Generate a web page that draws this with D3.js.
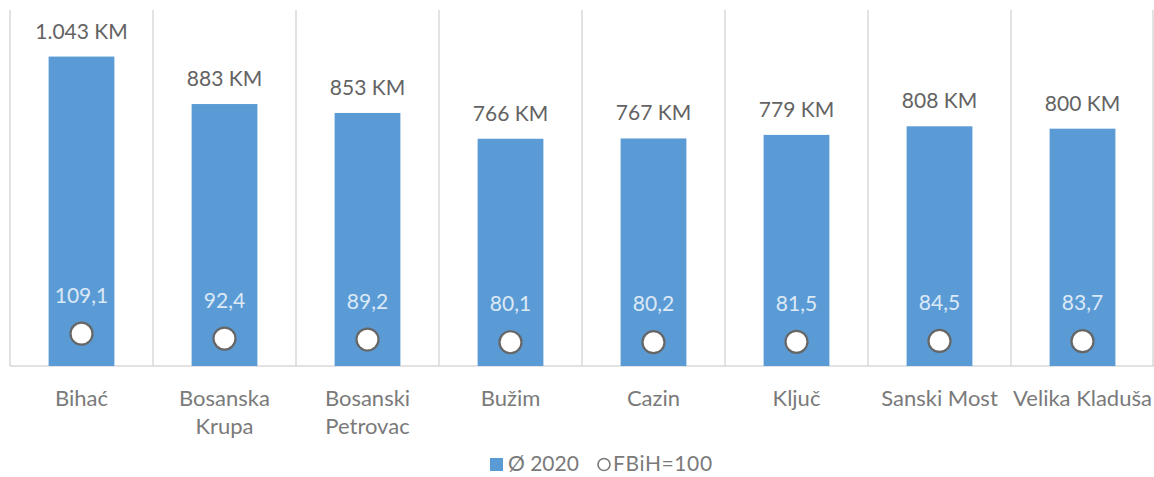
<!DOCTYPE html>
<html>
<head>
<meta charset="utf-8">
<script src="https://cdn.jsdelivr.net/npm/d3@7"></script>
<style>
  html, body { margin: 0; padding: 0; background: #ffffff; }
  svg { display: block; font-family: Lato, "Open Sans", sans-serif; }
</style>
</head>
<body>
<svg id="chart" width="1154" height="477"></svg>
<script>
// Municipalities of Una-Sana Canton
const categories = ["Bihać", "Bosanska Krupa", "Bosanski Petrovac", "Bužim", "Cazin", "Ključ", "Sanski Most", "Velika Kladuša"];
// Axis labels, split over lines
const tickLabels = [["Bihać"], ["Bosanska", "Krupa"], ["Bosanski", "Petrovac"], ["Bužim"], ["Cazin"], ["Ključ"], ["Sanski Most"], ["Velika Kladuša"]];
// Average net salary 2020 (KM)
const salary2020 = [1043, 883, 853, 766, 767, 779, 808, 800];
// Index relative to FBiH average (FBiH = 100)
const indexFBiH = [109.1, 92.4, 89.2, 80.1, 80.2, 81.5, 84.5, 83.7];
const legendLabels = ["Ø 2020", "FBiH=100"];

const svg = d3.select("#chart");

const loc = d3.formatLocale({ decimal: ",", thousands: ".", grouping: [3], currency: ["", " KM"] });
const fmtKM = v => loc.format(",d")(v) + " KM";
const fmtIdx = loc.format(".1f");

const x = d3.scaleBand().domain(categories).range([10, 1154]).padding(0);
const y = d3.scaleLinear().domain([0, 1200]).range([366, 10]);
const barW = x.bandwidth() * 0.46;

const data = categories.map((c, i) => ({ c, v: salary2020[i], idx: indexFBiH[i], lines: tickLabels[i] }));

// Category separators
const grid = svg.append("g");
const edges = categories.map(c => x(c)).concat([x.range()[1] - 1]);
grid.selectAll("line.sep").data(edges).join("line")
  .attr("x1", d => d).attr("x2", d => d)
  .attr("y1", y(1200)).attr("y2", y(0))
  .attr("stroke", "#d9d9d9").attr("stroke-width", 1.5);
grid.append("line")
  .attr("x1", x.range()[0]).attr("x2", x.range()[1])
  .attr("y1", y(0)).attr("y2", y(0))
  .attr("stroke", "#d9d9d9").attr("stroke-width", 1.5);

// Bars
svg.append("g").selectAll("rect").data(data).join("rect")
  .attr("x", d => x(d.c) + (x.bandwidth() - barW) / 2)
  .attr("width", barW)
  .attr("y", d => y(d.v))
  .attr("height", d => y(0) - y(d.v))
  .attr("fill", "#5b9bd5");

// Bar value labels
svg.append("g").selectAll("text").data(data).join("text")
  .attr("x", d => x(d.c) + x.bandwidth() / 2)
  .attr("y", d => y(d.v) - 18)
  .attr("text-anchor", "middle")
  .attr("font-size", 21)
  .attr("fill", "#636363")
  .text(d => fmtKM(d.v));

// Index markers
svg.append("g").selectAll("circle").data(data).join("circle")
  .attr("cx", d => x(d.c) + x.bandwidth() / 2)
  .attr("cy", d => y(d.idx))
  .attr("r", 11)
  .attr("fill", "#ffffff")
  .attr("stroke", "#666666")
  .attr("stroke-width", 2.2);

// Index labels
svg.append("g").selectAll("text").data(data).join("text")
  .attr("x", d => x(d.c) + x.bandwidth() / 2)
  .attr("y", d => y(d.idx) - 31)
  .attr("text-anchor", "middle")
  .attr("font-size", 21)
  .attr("fill", "#dce9f6")
  .text(d => fmtIdx(d.idx));

// Category axis labels
const cat = svg.append("g").selectAll("text").data(data).join("text")
  .attr("x", d => x(d.c) + x.bandwidth() / 2)
  .attr("y", 406)
  .attr("text-anchor", "middle")
  .attr("font-size", 22)
  .attr("fill", "#7a7a7a");
cat.selectAll("tspan").data(d => d.lines).join("tspan")
  .attr("x", function () { return d3.select(this.parentNode).attr("x"); })
  .attr("dy", (d, i) => i === 0 ? 0 : 28)
  .text(d => d);

// Legend
const lg = svg.append("g");
lg.append("rect").attr("x", 490).attr("y", 458).attr("width", 13).attr("height", 13).attr("fill", "#5b9bd5");
lg.append("text").attr("x", 508).attr("y", 471).attr("font-size", 21).attr("fill", "#7a7a7a").text(legendLabels[0]);
lg.append("circle").attr("cx", 604).attr("cy", 464.5).attr("r", 6)
  .attr("fill", "#ffffff").attr("stroke", "#7a7a7a").attr("stroke-width", 1.6);
lg.append("text").attr("x", 613).attr("y", 471).attr("font-size", 21).attr("letter-spacing", 0.6).attr("fill", "#7a7a7a").text(legendLabels[1]);
</script>
</body>
</html>
